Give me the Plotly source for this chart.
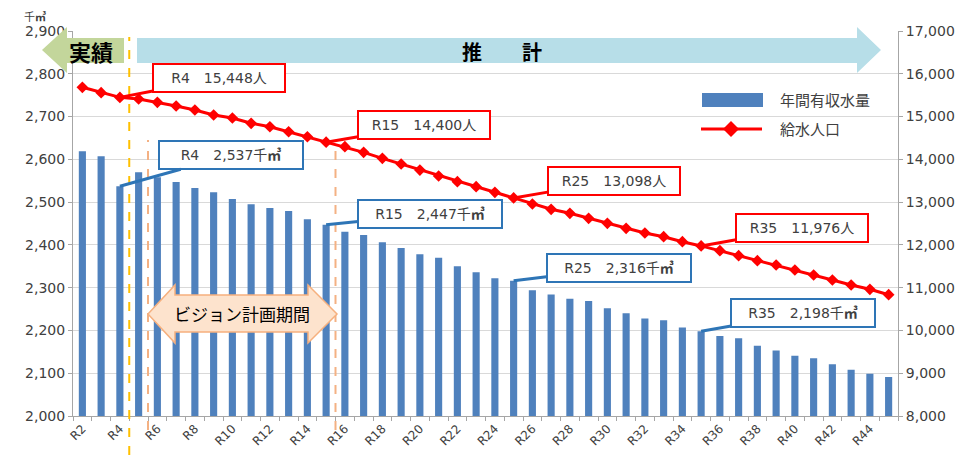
import plotly.graph_objects as go

# ---------------- data ----------------
years = ["R2", "R3", "R4", "R5", "R6", "R7", "R8", "R9", "R10", "R11", "R12",
         "R13", "R14", "R15", "R16", "R17", "R18", "R19", "R20", "R21", "R22",
         "R23", "R24", "R25", "R26", "R27", "R28", "R29", "R30", "R31", "R32",
         "R33", "R34", "R35", "R36", "R37", "R38", "R39", "R40", "R41", "R42",
         "R43", "R44", "R45"]

water_volume = [2619, 2607, 2537, 2570, 2558, 2547, 2533, 2523, 2507, 2495, 2486,
                2479, 2460, 2447, 2431, 2423, 2406, 2393, 2378, 2370, 2350,
                2336, 2322, 2316, 2294, 2284, 2274, 2269, 2252, 2240, 2228,
                2224, 2207, 2198, 2187, 2182, 2164, 2153, 2141, 2135, 2121,
                2108, 2099, 2091]

population = [15684, 15558, 15448, 15410, 15333, 15247, 15153, 15036, 14966, 14842, 14762,
              14645, 14528, 14400, 14295, 14164, 14024, 13891, 13750, 13610, 13477,
              13360, 13229, 13098, 12956, 12832, 12738, 12621, 12504, 12387, 12278,
              12191, 12074, 11976, 11864, 11747, 11630, 11530, 11413, 11296, 11179,
              11062, 10962, 10835]

tick_labels = [y if i % 2 == 0 else "" for i, y in enumerate(years)]

pop_callouts = ["R4", "R15", "R25", "R35"]
vol_callouts = ["R4", "R15", "R25", "R35"]

FONT = "Noto Sans CJK JP, sans-serif"
NUMFONT = "DejaVu Sans, Noto Sans CJK JP, sans-serif"
TXT = "#404040"
BAR_C = "#4F81BD"
LINE_C = "#FF0000"
CALL_BLUE = "#2E75B6"

# plot-area geometry (screen pixels) used for decorative shapes
W, H = 967, 455
OFF = 8  # default page body margin
PL, PR, PT, PB = 73, 898, 31, 416


def px(x, y):
    return (x - PL) / (PR - PL), (PB - y) / (PB - PT)


def path(points):
    s = ""
    for i, (x, y) in enumerate(points):
        a, b = px(x, y)
        s += ("M" if i == 0 else "L") + f"{a:.5f},{b:.5f} "
    return s + "Z"


fig = go.Figure()

fig.add_trace(go.Bar(x=years, y=water_volume, name="年間有収水量",
                     marker=dict(color=BAR_C, line=dict(width=0)),
                     yaxis="y", showlegend=False))
fig.add_trace(go.Scatter(x=years, y=population, name="給水人口", mode="lines+markers",
                         line=dict(color=LINE_C, width=3),
                         marker=dict(symbol="diamond", size=9, color=LINE_C),
                         yaxis="y2", showlegend=False))

shapes = []
# 実績 arrow (left)
shapes.append(dict(type="path", xref="paper", yref="paper", layer="above",
                   path=path([(42, 50), (67, 27), (67, 38), (124, 38), (124, 63),
                              (67, 63), (67, 73)]),
                   fillcolor="#C3D69B", line=dict(width=0)))
# 推計 arrow (right)
shapes.append(dict(type="path", xref="paper", yref="paper", layer="above",
                   path=path([(137, 38), (857, 38), (857, 27), (881, 50), (857, 73),
                              (857, 63), (137, 63)]),
                   fillcolor="#B7DEE8", line=dict(width=0)))

# vertical dashed lines
shapes.append(dict(type="line", xref="x", yref="paper", x0=2.5, x1=2.5,
                   y0=px(0, 455)[1], y1=px(0, 37)[1], layer="above",
                   line=dict(color="#FFC000", width=2, dash="dash")))
for xi, yt in [(3.5, 140), (13.5, 143)]:
    shapes.append(dict(type="line", xref="x", yref="paper", x0=xi, x1=xi,
                       y0=px(0, 430)[1], y1=px(0, yt)[1], layer="above",
                       line=dict(color="#F4B183", width=2, dash="dash")))

# ビジョン計画期間 double arrow
shapes.append(dict(type="path", xref="paper", yref="paper", layer="above",
                   path=path([(148, 314), (175, 285), (175, 295), (308, 295), (308, 285),
                              (337, 314), (308, 343), (308, 332), (175, 332), (175, 343)]),
                   fillcolor="#FDE3CD", line=dict(color="#F6B07E", width=1.5)))

# custom legend
a0, b0 = px(702, 93)
a1, b1 = px(763, 107)
shapes.append(dict(type="rect", xref="paper", yref="paper", x0=a0, x1=a1, y0=b1, y1=b0,
                   fillcolor=BAR_C, line=dict(width=0), layer="above"))
la, lb = px(701, 129)
lc, _ = px(762, 129)
shapes.append(dict(type="line", xref="paper", yref="paper", x0=la, x1=lc, y0=lb, y1=lb,
                   line=dict(color=LINE_C, width=3), layer="above"))
shapes.append(dict(type="path", xref="paper", yref="paper", layer="above",
                   path=path([(731, 121), (739, 129), (731, 137), (723, 129)]),
                   fillcolor=LINE_C, line=dict(width=0)))

annotations = []


def text_ann(x, y, text, size, color="#000000", xanchor="center", bold=False,
             family=FONT):
    a, b = px(x, y)
    annotations.append(dict(xref="paper", yref="paper", x=a, y=b,
                            text=(f"<b>{text}</b>" if bold else text),
                            showarrow=False, xanchor=xanchor, yanchor="middle",
                            font=dict(family=family, size=size, color=color)))


text_ann(91, 51, "実績", 22, "#000000", bold=True)
text_ann(502, 51, "推\u3000\u3000計", 20, "#000000", bold=True)
text_ann(242, 313, "ビジョン計画期間", 17, "#000000")
text_ann(778, 100, "年間有収水量", 15, TXT, xanchor="left")
text_ann(778, 129, "給水人口", 15, TXT, xanchor="left")
text_ann(35, 16, "千<b>㎥</b>", 11, TXT)

# callouts
pop_offsets = {"R4": (99, -19), "R15": (98, -17), "R25": (100, -17), "R35": (101, -18)}
vol_offsets = {"R4": (111, -31), "R15": (104, -11), "R25": (105, -13), "R35": (102, -18)}
for r in pop_callouts:
    i = years.index(r)
    ax, ay = pop_offsets[r]
    annotations.append(dict(x=r, y=population[i], xref="x", yref="y2",
                            text=f"{r}\u2003{population[i]:,}人",
                            showarrow=True, arrowhead=0, arrowwidth=3, arrowcolor=LINE_C,
                            ax=ax, ay=ay, bgcolor="#FFFFFF", bordercolor=LINE_C,
                            borderwidth=2, borderpad=3, width=124, height=20,
                            font=dict(family=NUMFONT, size=14, color=TXT)))
for r in vol_callouts:
    i = years.index(r)
    ax, ay = vol_offsets[r]
    annotations.append(dict(x=r, y=water_volume[i], xref="x", yref="y",
                            text=f"{r}\u2003{water_volume[i]:,}千<b>㎥</b>",
                            showarrow=True, arrowhead=0, arrowwidth=3, arrowcolor=CALL_BLUE,
                            ax=ax, ay=ay, bgcolor="#FFFFFF", bordercolor=CALL_BLUE,
                            borderwidth=2, borderpad=3, width=136, height=20,
                            font=dict(family=NUMFONT, size=14, color=TXT)))

fig.update_layout(
    width=W, height=H,
    margin=dict(l=PL - OFF, r=W - (PR - OFF), t=PT - OFF, b=H - (PB - OFF), autoexpand=False),
    paper_bgcolor="#FFFFFF", plot_bgcolor="#FFFFFF",
    bargap=0.62,
    font=dict(family=FONT, color=TXT),
    xaxis=dict(type="category", range=[-0.5, len(years) - 0.5], autorange=False,
               tickmode="array", tickvals=years, ticktext=tick_labels,
               tickangle=-45, tickfont=dict(family=NUMFONT, size=12, color=TXT),
               ticks="outside", tickson="boundaries", ticklen=4, tickcolor="#A6A6A6",
               showline=True, linecolor="#A6A6A6", linewidth=1, showgrid=False,
               automargin=False),
    yaxis=dict(range=[2000, 2900], autorange=False, dtick=100, tickformat=",", showgrid=True,
               gridcolor="#D9D9D9", gridwidth=1, showline=True, linecolor="#A6A6A6",
               ticks="outside", ticklen=4, tickcolor="#A6A6A6",
               tickfont=dict(family=NUMFONT, size=14, color=TXT), zeroline=False,
               automargin=False),
    yaxis2=dict(range=[8000, 17000], autorange=False, dtick=1000, tickformat=",",
                overlaying="y", side="right", showgrid=False, showline=True,
                linecolor="#A6A6A6", ticks="outside", ticklen=4, tickcolor="#A6A6A6",
                tickfont=dict(family=NUMFONT, size=14, color=TXT), zeroline=False,
                automargin=False),
    shapes=shapes,
    annotations=annotations,
)

fig.write_html("out.html")
